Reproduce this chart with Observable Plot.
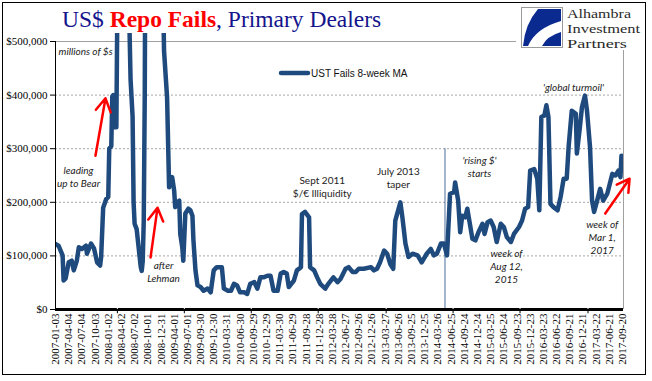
<!DOCTYPE html>
<html><head><meta charset="utf-8">
<script src="https://cdn.jsdelivr.net/npm/d3@7"></script>
<script src="https://cdn.jsdelivr.net/npm/@observablehq/plot@0.6"></script>
<style>
html,body{margin:0;padding:0;background:#fff;}
#chart{position:relative;width:652px;height:381px;}
</style></head><body><div id="chart"></div>
<script>
// ---- data (weekly, weeks counted from 2007-01-03; values in $ millions) ----
const startDate = "2007-01-03";
const weeks = [0,3,7,8,10,13,16,18,21,23,26,30,31,35,38,41,44,45,47,50,52,53,55,56,57,58,60,62,64,67,70,72,73,74,76,77,78,80,82,84,85,86,87,88,89,92,95,99,103,106,107,110,112,115,117,118,120,122,123,125,126,128,131,133,135,136,138,140,143,146,150,153,156,159,164,166,170,173,176,179,182,186,189,192,196,199,202,205,209,212,215,219,222,225,228,230,235,238,242,243,246,250,251,255,258,261,266,269,274,278,281,286,289,293,296,299,304,311,314,317,320,324,327,330,333,335,340,342,345,348,352,357,361,366,370,373,376,380,383,386,389,393,394,397,399,401,404,406,408,411,414,417,421,423,426,429,432,435,439,442,445,449,452,457,460,463,466,468,472,475,477,479,482,484,486,488,491,495,498,501,504,506,509,513,514,517,519,522,524,527,529,531,534,537,540,544,549,552,555,557,558];
const fails = [122000,119000,101000,54000,58000,88000,91000,73000,91000,116000,113000,119000,104000,123000,114000,88000,82000,98000,190000,206000,210000,300000,305000,398000,400000,340000,340000,800000,1100000,1300000,900000,650000,520000,430000,360000,200000,160000,150000,115000,80000,72000,90000,165000,400000,900000,1500000,2000000,1800000,1200000,600000,483000,396000,228000,247000,222000,191000,200000,203000,141000,116000,91000,179000,188000,185000,175000,129000,73000,45000,42000,35000,39000,32000,73000,79000,79000,39000,35000,35000,48000,45000,32000,32000,29000,48000,51000,39000,60000,60000,63000,63000,35000,35000,67000,70000,67000,42000,54000,73000,79000,178000,182000,172000,79000,73000,60000,48000,39000,48000,60000,51000,57000,76000,79000,70000,70000,76000,76000,79000,73000,76000,88000,110000,104000,85000,76000,166000,200000,172000,123000,98000,104000,101000,88000,104000,113000,101000,104000,123000,123000,101000,216000,219000,237000,203000,144000,175000,172000,188000,166000,132000,129000,144000,160000,141000,163000,166000,154000,126000,160000,154000,135000,126000,141000,154000,166000,188000,191000,259000,262000,244000,185000,359000,362000,381000,359000,197000,191000,185000,210000,244000,244000,306000,371000,365000,291000,340000,377000,399000,371000,303000,203000,182000,203000,225000,203000,216000,253000,250000,259000,247000,287000];

const yTicks = [0,100000,200000,300000,400000,500000];
const labelDates = ["2007-01-03","2007-04-04","2007-07-04","2007-10-03","2008-01-02","2008-04-02","2008-07-02","2008-10-01","2008-12-31","2009-04-01","2009-07-01","2009-09-30","2009-12-30","2010-03-31","2010-06-30","2010-09-29","2010-12-29","2011-03-30","2011-06-29","2011-09-28","2011-12-28","2012-03-28","2012-06-27","2012-09-26","2012-12-26","2013-03-27","2013-06-26","2013-09-25","2013-12-25","2014-03-26","2014-06-25","2014-09-24","2014-12-24","2015-03-25","2015-06-24","2015-09-23","2015-12-23","2016-03-23","2016-06-22","2016-09-21","2016-12-21","2017-03-22","2017-06-21","2017-09-20"];
const majorTickDates = ["2008-03-05","2009-06-10","2010-09-15","2011-12-21","2013-04-03","2014-07-09","2015-10-14","2017-01-25"];
const domainEnd = "2017-09-27";
const shiftDate = "2014-05-14";   // 'rising $' vertical marker
const shiftTop = 300000;

// annotations (week, value)
const annoLabels = ["millions of $s","leading\nup to Bear","after\nLehman","'rising $'\nstarts","week of\nAug 12,\n2015","'global turmoil'","week of\nMar 1,\n2017","Sept 2011\n$/€ Illiquidity","July 2013\ntaper"];
const annoWeeks  = [3,22.7,106.5,418,444.6,510.7,539,263,338];
const annoValues = [483000,248000,71000,267000,81000,416000,135000,229000,247000];
const annoItalic = [true,true,true,true,true,true,true,false,false];
const annoAnchor = ["start","middle","middle","middle","middle","middle","middle","middle","middle"];

const arrowFromWeek = [39.4,93.7,542];
const arrowFromValue = [287000,97000,179000];
const arrowToWeek = [49.3,100.6,566];
const arrowToValue = [394000,190000,244000];

const legendLabel = "UST Fails 8-week MA";
const titleParts = ["US$ ", "Repo Fails", ", Primary Dealers"];
const logoLines = ["Alhambra", "Investment", "Partners"];

// ---- build ----
const parse = d3.utcParse("%Y-%m-%d");
const t0 = parse(startDate);
const wk = n => new Date(+t0 + n * 7 * 864e5);
const series = weeks.map((w, i) => ({date: wk(w), value: fails[i]}));
const annos = annoLabels.map((l, i) => ({label: l, date: wk(annoWeeks[i]), value: annoValues[i], italic: annoItalic[i], anchor: annoAnchor[i]}));
const arrows = arrowFromWeek.map((w, i) => ({x1: wk(w), y1: arrowFromValue[i], x2: wk(arrowToWeek[i]), y2: arrowToValue[i]}));
const majors = majorTickDates.map(parse);
const lineColor = "#1f4a7d";

const chart = Plot.plot({
  width: 652, height: 381,
  marginLeft: 55, marginRight: 29, marginTop: 41, marginBottom: 72,
  style: {fontFamily: "'Liberation Serif', serif", fontSize: "11px", background: "transparent", color: "black", overflow: "visible"},
  x: {type: "utc", domain: [t0, parse(domainEnd)], ticks: labelDates.map(parse), tickFormat: d3.utcFormat("%Y-%m-%d"), tickRotate: -90, tickSize: 0, tickPadding: 4, label: null},
  y: {domain: [0, 500000], ticks: yTicks, tickFormat: d => "$" + d3.format(",")(d), tickSize: 5, tickPadding: 3, label: null},
  marks: [
    Plot.ruleY(yTicks.filter(v => v > 0 && v < 500000), {stroke: "#a6a6a6", strokeDasharray: "2,2"}),
    Plot.ruleY([500000], {stroke: "#a0a0a0"}),
    Plot.ruleX([parse(domainEnd)], {stroke: "#a0a0a0"}),
    Plot.ruleX([parse(shiftDate)], {y1: 0, y2: shiftTop, stroke: "#4a6e9c", strokeWidth: 1}),
    Plot.line(series, {x: "date", y: "value", stroke: lineColor, strokeWidth: 4.5, strokeLinejoin: "round", strokeLinecap: "round", clip: true}),
    Plot.ruleX([t0], {stroke: "black", strokeWidth: 1}),
    Plot.ruleY([0], {stroke: "black", strokeWidth: 3}),
    Plot.ruleX(majors, {y1: -8000, y2: 0, stroke: "black"}),
    Plot.ruleX(majors, {y1: 0, y2: 2500, stroke: "white"}),
    Plot.arrow(arrows, {x1: "x1", y1: "y1", x2: "x2", y2: "y2", stroke: "#ff0000", strokeWidth: 2.5, headLength: 9}),
    Plot.text(annos.filter(d => d.italic && d.anchor === "start"), {x: "date", y: "value", text: "label", textAnchor: "start", fontFamily: "Lato", fontStyle: "italic", fontSize: 10, lineHeight: 1.3, fill: "#222"}),
    Plot.text(annos.filter(d => d.italic && d.anchor === "middle"), {x: "date", y: "value", text: "label", fontFamily: "Lato", fontStyle: "italic", fontSize: 10, lineHeight: 1.3, fill: "#222"}),
    Plot.text(annos.filter(d => !d.italic), {x: "date", y: "value", text: "label", fontFamily: "Lato", fontSize: 10, lineHeight: 1.3, fill: "#222"})
  ]
});
document.getElementById("chart").appendChild(chart);

// extend clip a little above the frame (spikes run past the top gridline)
chart.querySelectorAll("clipPath rect").forEach(r => {
  const y = +r.getAttribute("y"), h = +r.getAttribute("height");
  if (!isNaN(y) && !isNaN(h)) { r.setAttribute("y", y - 8); r.setAttribute("height", h + 8); }
});

const svg = d3.select(chart);
const extra = svg.append("g").attr("text-anchor", "start");
// legend
extra.append("line").attr("x1", 281).attr("x2", 308).attr("y1", 73).attr("y2", 73)
  .attr("stroke", lineColor).attr("stroke-width", 4.5).attr("stroke-linecap", "round");
extra.append("text").attr("x", 311).attr("y", 76.5).attr("text-anchor", "start")
  .attr("font-family", "'Liberation Sans', Arial, sans-serif")
  .attr("font-size", 10).attr("fill", "#111").text(legendLabel);

// title
const title = extra.append("text").attr("x", 62).attr("y", 27).attr("text-anchor", "start")
  .attr("font-family", "'Liberation Serif', serif").attr("font-size", 23.5);
title.append("tspan").attr("fill", "#14148c").text(titleParts[0]);
title.append("tspan").attr("fill", "#ff0000").attr("font-weight", "bold").text(titleParts[1]);
title.append("tspan").attr("fill", "#14148c").text(titleParts[2]);

// logo
extra.append("rect").attr("x", 516).attr("y", 4).attr("width", 128).attr("height", 46).attr("fill", "white");
extra.append("rect").attr("x", 521.5).attr("y", 7.5).attr("width", 41).attr("height", 40).attr("fill", "white").attr("stroke", "#9a9a9a");
extra.append("path").attr("d", "M538 9 L561 9 L561 21 Q536 28 528 46 L523 46 Q525 24 538 9 Z").attr("fill", "#0b2a8f");
extra.append("path").attr("d", "M542 46 Q547 36 561 32 L561 46 Z").attr("fill", "#0b2a8f");
const logoWidths = [64, 73, 60];
logoLines.forEach((s, i) => {
  extra.append("text").attr("x", 567).attr("y", 18 + i * 15).attr("text-anchor", "start")
    .attr("font-family", "'Liberation Serif', serif").attr("font-size", 13.5).attr("fill", "#2a2a2a")
    .attr("textLength", logoWidths[i]).attr("lengthAdjust", "spacingAndGlyphs").text(s);
});

// outer border
extra.append("rect").attr("x", 2.5).attr("y", 2.5).attr("width", 643).attr("height", 372)
  .attr("fill", "none").attr("stroke", "black").attr("stroke-width", 1);
</script></body></html>
